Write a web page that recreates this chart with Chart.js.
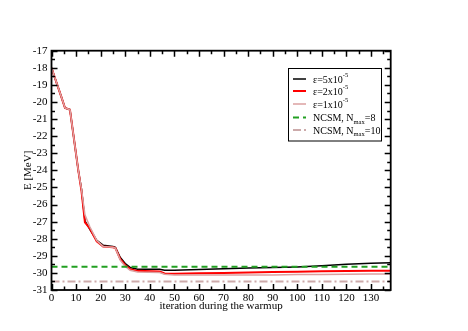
<!DOCTYPE html>
<html><head><meta charset="utf-8">
<script src="https://cdn.jsdelivr.net/npm/chart.js@4"></script>
<style>html,body{margin:0;padding:0;background:#fff}#wrap{width:468px;height:331px}</style>
</head><body><div id="wrap"><canvas id="c" width="468" height="331"></canvas></div>
<script>
const iterations = [0, 2, 4, 5.5, 7.5, 10.9, 12.2, 13.6, 15.6, 18.4, 21, 25, 26, 28, 30, 32, 35, 44, 46, 50, 60, 70, 80, 90, 100, 110, 120, 130, 138];
const eps5 = [-18, -18.85, -19.7, -20.35, -20.45, -24.0, -25.1, -26.95, -27.45, -28.1, -28.38, -28.45, -28.5, -29.1, -29.45, -29.68, -29.78, -29.78, -29.84, -29.84, -29.8, -29.76, -29.72, -29.69, -29.65, -29.58, -29.5, -29.44, -29.4];
const eps2 = [-18, -18.85, -19.7, -20.35, -20.45, -24.0, -25.2, -27.04, -27.4, -28.15, -28.45, -28.5, -28.55, -29.2, -29.55, -29.78, -29.88, -29.92, -30.03, -30.05, -30.02, -30.0, -29.98, -29.95, -29.93, -29.91, -29.89, -29.88, -29.87];
const eps1 = [-18, -18.85, -19.7, -20.35, -20.45, -24.0, -25.1, -26.6, -27.3, -28.1, -28.45, -28.5, -28.55, -29.25, -29.62, -29.85, -29.95, -29.98, -30.08, -30.12, -30.12, -30.12, -30.12, -30.12, -30.1, -30.09, -30.08, -30.07, -30.06];
const ncsmIters = [0, 138];
const ncsm8 = [-29.64, -29.64];
const ncsm10 = [-30.5, -30.5];
const legendMain = ["ε=5x10", "ε=2x10", "ε=1x10", "NCSM, N", "NCSM, N"];
const legendSup = ["-5", "-5", "-5", "", ""];
const legendSub = ["", "", "", "max", "max"];
const legendTail = ["", "", "", "=8", "=10"];
const xTitle = "iteration during the warmup";
const yTitle = "E [MeV]";

const FONT = "'Liberation Serif', 'DejaVu Serif', serif";
const pts = (xs, ys) => xs.map((x, i) => ({x: x, y: ys[i]}));

const framePlugin = {
  id: 'frame',
  beforeDraw(chart) {
    const ctx = chart.ctx;
    ctx.save(); ctx.fillStyle = '#fff'; ctx.fillRect(0, 0, chart.width, chart.height); ctx.restore();
  },
  afterDraw(chart) {
    const {ctx, chartArea: a, scales: {x, y}} = chart;
    ctx.save();
    ctx.strokeStyle = '#000';
    ctx.lineWidth = 1.8;
    ctx.strokeRect(a.left, a.top, a.right - a.left, a.bottom - a.top);
    ctx.lineWidth = 1.5;
    ctx.beginPath();
    for (let v = x.min; v <= x.max + 1e-9; v += 5) {
      const px = Math.round(x.getPixelForValue(v)) + 0.5;
      const L = (v % 10 === 0) ? 6 : 3.5;
      ctx.moveTo(px, a.bottom); ctx.lineTo(px, a.bottom - L);
      ctx.moveTo(px, a.top); ctx.lineTo(px, a.top + L);
    }
    for (let v = y.min; v <= y.max + 1e-9; v += 0.5) {
      const py = Math.round(y.getPixelForValue(v)) + 0.5;
      const L = (Math.abs(v % 1) < 1e-9) ? 6 : 3.5;
      ctx.moveTo(a.left, py); ctx.lineTo(a.left + L, py);
      ctx.moveTo(a.right, py); ctx.lineTo(a.right - L, py);
    }
    ctx.stroke();

    // legend
    const bx = 288.5, by = 68.5, bw = 93, bh = 72.5;
    ctx.fillStyle = '#fff';
    ctx.fillRect(bx, by, bw, bh);
    ctx.lineWidth = 1;
    ctx.strokeStyle = '#000';
    ctx.strokeRect(bx, by, bw, bh);
    const rows = [79, 91, 104, 117.5, 130];
    chart.data.datasets.forEach((ds, i) => {
      const ry = rows[i];
      ctx.save();
      ctx.strokeStyle = ds.borderColor;
      ctx.lineWidth = ds.borderWidth;
      ctx.setLineDash(ds.borderDash || []);
      ctx.beginPath(); ctx.moveTo(293, ry); ctx.lineTo(306, ry); ctx.stroke();
      ctx.restore();
      ctx.fillStyle = '#000';
      ctx.textBaseline = 'middle';
      ctx.textAlign = 'left';
      ctx.font = '10px ' + FONT;
      let tx = 313;
      ctx.fillText(legendMain[i], tx, ry + 1);
      tx += ctx.measureText(legendMain[i]).width;
      if (legendSup[i]) {
        ctx.font = '6.5px ' + FONT;
        ctx.fillText(legendSup[i], tx, ry - 3.5);
        tx += ctx.measureText(legendSup[i]).width;
      }
      if (legendSub[i]) {
        ctx.font = '6.5px ' + FONT;
        ctx.fillText(legendSub[i], tx, ry + 4.5);
        tx += ctx.measureText(legendSub[i]).width;
      }
      if (legendTail[i]) {
        ctx.font = '10px ' + FONT;
        ctx.fillText(legendTail[i], tx, ry + 1);
      }
    });
    ctx.restore();
  }
};

new Chart(document.getElementById('c'), {
  type: 'line',
  data: {
    datasets: [
      {label: 'eps5', data: pts(iterations, eps5), borderColor: '#000000', borderWidth: 1.5, order: 3},
      {label: 'eps2', data: pts(iterations, eps2), borderColor: '#ff0000', borderWidth: 2, order: 2},
      {label: 'eps1', data: pts(iterations, eps1), borderColor: '#dba0a0', borderWidth: 1.5, order: 1},
      {label: 'ncsm8', data: pts(ncsmIters, ncsm8), borderColor: '#22a022', borderWidth: 2, borderDash: [6, 4], order: 0},
      {label: 'ncsm10', data: pts(ncsmIters, ncsm10), borderColor: '#ccaaaa', borderWidth: 2, borderDash: [8, 3, 2, 3], order: 0}
    ]
  },
  options: {
    responsive: false,
    animation: false,
    devicePixelRatio: 1,
    layout: {padding: {left: 21.7, right: 77.3, top: 50.7, bottom: 18}},
    elements: {point: {radius: 0}, line: {tension: 0, fill: false}},
    plugins: {legend: {display: false}, tooltip: {enabled: false}},
    scales: {
      x: {
        type: 'linear', min: 0, max: 138,
        grid: {display: false, drawTicks: false},
        border: {display: false},
        ticks: {stepSize: 10, includeBounds: false, autoSkip: false, maxRotation: 0, padding: 2, color: '#000', font: {family: FONT, size: 11}},
        title: {display: true, text: xTitle, color: '#000', padding: {top: 0, bottom: 0}, font: {family: FONT, size: 11}},
        afterFit: (s) => { s.height = 23; }
      },
      y: {
        type: 'linear', min: -31, max: -17,
        grid: {display: false, drawTicks: false},
        border: {display: false},
        ticks: {stepSize: 1, autoSkip: false, padding: 4, color: '#000', font: {family: FONT, size: 11}},
        title: {display: true, text: yTitle, color: '#000', padding: {top: 0, bottom: 0}, font: {family: FONT, size: 11}},
        afterFit: (s) => { s.width = 29.8; }
      }
    }
  },
  plugins: [framePlugin]
});
</script></body></html>
